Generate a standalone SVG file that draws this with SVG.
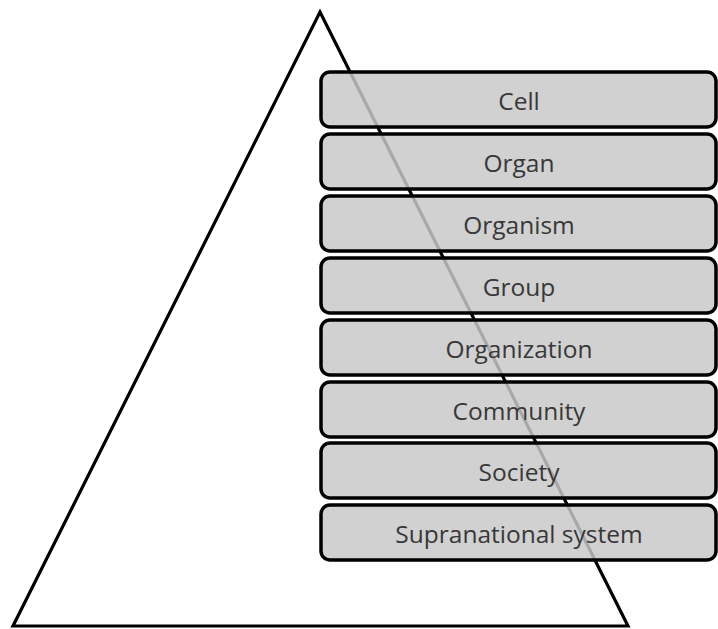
<svg xmlns="http://www.w3.org/2000/svg" width="718" height="629" viewBox="0 0 718 629">
  <style>
    .tri { fill: none; stroke: #000; stroke-width: 3.2; stroke-linejoin: miter; }
    .box rect { fill: #c8c8c8; fill-opacity: 0.84; stroke: #000; stroke-width: 3.5; }
    .box text { font-family: "Open Sans", "Liberation Sans", sans-serif; font-size: 24.5px; fill: #383838; text-anchor: middle; dominant-baseline: central; }
  </style>
  <rect width="718" height="629" fill="#fff"/>

  <!-- hierarchy pyramid -->
  <g id="pyramid">
    <polygon class="tri" points="320,12 628,626 13,626"/>
  </g>

  <!-- levels, top to bottom -->
  <g id="cell" class="box"><rect x="321" y="72" width="395" height="55" rx="9"/><text x="519" y="100">Cell</text></g>
  <g id="organ" class="box"><rect x="321" y="134" width="395" height="55" rx="9"/><text x="519" y="162">Organ</text></g>
  <g id="organism" class="box"><rect x="321" y="196" width="395" height="55" rx="9"/><text x="519" y="224">Organism</text></g>
  <g id="group" class="box"><rect x="321" y="258" width="395" height="55" rx="9"/><text x="519" y="286">Group</text></g>
  <g id="organization" class="box"><rect x="321" y="320" width="395" height="55" rx="9"/><text x="519" y="348">Organization</text></g>
  <g id="community" class="box"><rect x="321" y="382" width="395" height="55" rx="9"/><text x="519" y="410">Community</text></g>
  <g id="society" class="box"><rect x="321" y="443" width="395" height="55" rx="9"/><text x="519" y="471">Society</text></g>
  <g id="supranational" class="box"><rect x="321" y="505" width="395" height="55" rx="9"/><text x="519" y="533">Supranational system</text></g>

  <g id="connectors"></g>
</svg>
